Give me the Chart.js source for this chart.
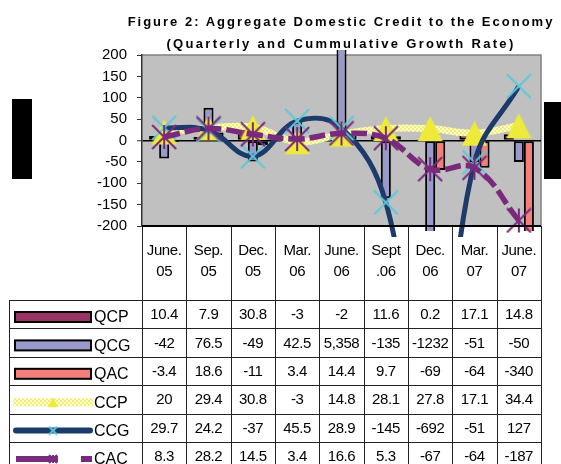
<!DOCTYPE html>
<html>
<head>
<meta charset="utf-8">
<script src="https://cdn.jsdelivr.net/npm/chart.js@4.4.0/dist/chart.umd.min.js"></script>
<style>
  html, body { margin: 0; padding: 0; background: #fff; width: 561px; height: 464px; overflow: hidden; }
  #wrap { position: relative; width: 561px; height: 464px; }
  #chart { position: absolute; left: 0; top: 0; }
  .title { position: absolute; left: 120px; width: 442px; text-align: center; line-height: 16px;
           font: bold 13px "Liberation Sans", Arial, sans-serif; color: #000; white-space: nowrap; }
  .blk { position: absolute; background: #000; }
</style>
</head>
<body>
<div id="wrap">
  <canvas id="chart" width="561" height="464"></canvas>
  <div class="title" style="top:14px; letter-spacing:2px;">Figure 2: Aggregate Domestic Credit to the Economy</div>
  <div class="title" style="top:36px; letter-spacing:2.3px;">(Quarterly and Cummulative Growth Rate)</div>
  <div class="blk" style="left:12px; top:99px; width:20px; height:80px;"></div>
  <div class="blk" style="left:544px; top:102px; width:17px; height:77px;"></div>
</div>
<script>
// categories (two lines each, as in the data table header)
const categories = [
    ["June.", "05"], ["Sep.", "05"], ["Dec.", "05"], ["Mar.", "06"], ["June.", "06"],
    ["Sept", ".06"], ["Dec.", "06"], ["Mar.", "07"], ["June.", "07"]
];

// quarterly growth (bars)
const qcp = [10.4, 7.9, 30.8, -3, -2, 11.6, 0.2, 17.1, 14.8];
const qcg = [-42, 76.5, -49, 42.5, 5358, -135, -1232, -51, -50];
const qac = [-3.4, 18.6, -11, 3.4, 14.4, 9.7, -69, -64, -340];

// cumulative growth (lines)
const ccp = [20, 29.4, 30.8, -3, 14.8, 28.1, 27.8, 17.1, 34.4];
const ccg = [29.7, 24.2, -37, 45.5, 28.9, -145, -692, -51, 127];
const cac = [8.3, 28.2, 14.5, 3.4, 16.6, 5.3, -67, -64, -187];

// y axis
const yMin = -200;
const yMax = 200;
const yStep = 50;

const FONT = '"Liberation Sans", Arial, sans-serif';

function makeMarker(kind, size, color, lw) {
    const c = document.createElement("canvas");
    c.width = size + 2;
    c.height = size + 2;
    const g = c.getContext("2d");
    const m = (size + 2) / 2, r = size / 2;
    g.strokeStyle = color;
    g.fillStyle = color;
    g.lineWidth = lw;
    g.beginPath();
    if (kind === "tri") {
        g.moveTo(m, 1);
        g.lineTo(size + 1, size + 1);
        g.lineTo(1, size + 1);
        g.closePath();
        g.fill();
    } else {
        g.moveTo(m - r, m - r); g.lineTo(m + r, m + r);
        g.moveTo(m + r, m - r); g.lineTo(m - r, m + r);
        if (kind === "star") { g.moveTo(m, m - r); g.lineTo(m, m + r); }
        g.stroke();
    }
    return c;
}

const canvas = document.getElementById("chart");
const ctx = canvas.getContext("2d");

// dotted pale yellow band for CCP
const tile = document.createElement("canvas");
tile.width = 4; tile.height = 4;
const tg = tile.getContext("2d");
tg.fillStyle = "#FFFFC4"; tg.fillRect(0, 0, 4, 4);
tg.fillStyle = "#EFEC84"; tg.fillRect(0, 0, 2, 2); tg.fillRect(2, 2, 2, 2);
const ccpPattern = ctx.createPattern(tile, "repeat");

const YELLOW = "#EDEA3A";
const NAVY = "#1C3A6A";
const CYAN = "#5CC8DA";
const PURPLE = "#7A2A7C";

const lineClip = { left: 0, top: 5, right: 0, bottom: 11 };
const barClip = { left: 0, top: 5, right: 0, bottom: 5 };

const fmt = v => v >= 1000 ? v.toLocaleString("en-US") : String(v);

// grey plot area with the grey frame
const plotFrame = {
    id: "plotFrame",
    beforeDraw(chart) {
        const a = chart.chartArea;
        const c = chart.ctx;
        c.save();
        c.fillStyle = "#C0C0C0";
        c.fillRect(a.left, a.top, a.right - a.left, a.bottom - a.top);
        c.strokeStyle = "#808080";
        c.lineWidth = 1.5;
        c.beginPath();
        c.moveTo(a.left, a.top);
        c.lineTo(a.right, a.top);
        c.lineTo(a.right, a.bottom);
        c.stroke();
        c.restore();
    }
};

// data table below the plot: header, legend keys and values
const dataTable = {
    id: "dataTable",
    afterDraw(chart) {
        const c = chart.ctx;
        const a = chart.chartArea;
        const xs = chart.scales.x;
        const n = categories.length;
        const edges = [];
        for (let i = 0; i <= n; i++) edges.push(Math.round(xs.getPixelForValue(i - 0.5)) + 0.5);
        const rowTop = 300, rowH = 28.4, left = 9.5, bottom = chart.height;
        const sets = chart.data.datasets;

        c.save();
        c.strokeStyle = "#222";
        c.lineWidth = 1;
        c.beginPath();
        edges.forEach(x => { c.moveTo(x, a.bottom); c.lineTo(x, bottom); });
        c.moveTo(left, rowTop); c.lineTo(left, bottom);
        for (let r = 0; r < sets.length; r++) {
            const y = Math.round(rowTop + r * rowH) + 0.5;
            c.moveTo(left, y); c.lineTo(edges[n], y);
        }
        c.stroke();

        c.strokeStyle = "#000";
        c.lineWidth = 2;
        c.beginPath();
        c.moveTo(a.left, a.bottom); c.lineTo(a.right, a.bottom);
        c.stroke();

        c.fillStyle = "#000";
        c.font = "15px " + FONT;
        if ("letterSpacing" in c) c.letterSpacing = "-0.4px";
        c.textAlign = "center";
        c.textBaseline = "middle";
        categories.forEach((lab, i) => {
            const cx = xs.getPixelForValue(i);
            c.fillText(lab[0], cx, 251);
            c.fillText(lab[1], cx, 272);
        });

        sets.forEach((ds, r) => {
            const top = rowTop + r * rowH;
            c.fillStyle = "#000";
            c.textAlign = "center";
            c.font = "15px " + FONT;
            if ("letterSpacing" in c) c.letterSpacing = "-0.4px";
            ds.data.forEach((v, i) => c.fillText(fmt(v), xs.getPixelForValue(i), top + 15));

            const ky = top + 17;
            if (ds.type === "bar") {
                c.fillStyle = ds.backgroundColor;
                c.fillRect(15, ky - 5, 76, 10);
                c.strokeStyle = "#000";
                c.lineWidth = 2;
                c.strokeRect(15, ky - 5, 76, 10);
            } else {
                c.save();
                c.strokeStyle = ds.borderColor;
                c.lineWidth = ds.keyWidth;
                c.lineCap = ds.keyCap;
                c.setLineDash(ds.keyDash);
                c.beginPath();
                c.moveTo(ds.keyFrom, ky); c.lineTo(ds.keyTo, ky);
                c.stroke();
                c.restore();
                const mk = ds.keyMarker;
                c.drawImage(mk, 53 - mk.width / 2, ky - mk.height / 2);
            }
            c.fillStyle = "#000";
            c.textAlign = "left";
            c.font = "16px " + FONT;
            if ("letterSpacing" in c) c.letterSpacing = "0px";
            c.fillText(ds.label, 94, ky + 1);
        });
        c.restore();
    }
};

Chart.defaults.font.family = FONT;
Chart.defaults.color = "#000";

new Chart(canvas, {
    type: "bar",
    data: {
        labels: categories,
        datasets: [
            { type: "bar", label: "QCP", data: qcp, backgroundColor: "#993366", borderColor: "#000",
              borderWidth: 2, borderSkipped: false, order: 10, clip: barClip },
            { type: "bar", label: "QCG", data: qcg, backgroundColor: "#9999CC", borderColor: "#000",
              borderWidth: 2, borderSkipped: false, order: 10, clip: barClip },
            { type: "bar", label: "QAC", data: qac, backgroundColor: "#F47E7A", borderColor: "#000",
              borderWidth: 2, borderSkipped: false, order: 10, clip: barClip },
            { type: "line", label: "CCP", data: ccp, borderColor: ccpPattern, borderWidth: 7,
              tension: 0.4, capBezierPoints: false, order: 3, clip: lineClip,
              pointStyle: makeMarker("tri", 25, YELLOW, 1),
              keyWidth: 8, keyCap: "butt", keyDash: [], keyFrom: 13, keyTo: 93,
              keyMarker: makeMarker("tri", 10, YELLOW, 1) },
            { type: "line", label: "CCG", data: ccg, borderColor: NAVY, borderWidth: 5,
              tension: 0.4, capBezierPoints: false, order: 2, clip: lineClip,
              pointStyle: makeMarker("x", 24, CYAN, 2),
              keyWidth: 6, keyCap: "round", keyDash: [], keyFrom: 16, keyTo: 90,
              keyMarker: makeMarker("x", 8, CYAN, 2) },
            { type: "line", label: "CAC", data: cac, borderColor: PURPLE, borderWidth: 5.5,
              borderDash: [16, 5], tension: 0.4, capBezierPoints: false, order: 1, clip: lineClip,
              pointStyle: makeMarker("star", 24, PURPLE, 2),
              keyWidth: 6, keyCap: "butt", keyDash: [42, 23], keyFrom: 16, keyTo: 92,
              keyMarker: makeMarker("star", 8, PURPLE, 2) }
        ]
    },
    options: {
        responsive: false,
        animation: false,
        layout: { padding: { left: 0, top: 55, right: 20, bottom: 238 } },
        datasets: { bar: { categoryPercentage: 0.68, barPercentage: 1 } },
        plugins: { legend: { display: false }, tooltip: { enabled: false }, title: { display: false } },
        scales: {
            x: { display: false, offset: true },
            y: {
                min: yMin,
                max: yMax,
                afterFit: s => { s.width = 142; },
                border: { display: true, color: "#333", width: 1.5 },
                grid: {
                    drawOnChartArea: true,
                    drawTicks: true,
                    tickLength: 5,
                    tickColor: "#333",
                    tickWidth: 1,
                    color: c => c.tick && c.tick.value === 0 ? "#000" : "rgba(0,0,0,0)",
                    lineWidth: c => c.tick && c.tick.value === 0 ? 1.5 : 1
                },
                ticks: { stepSize: yStep, padding: 10, font: { size: 15 }, color: "#000" }
            }
        }
    },
    plugins: [plotFrame, dataTable]
});
</script>
</body>
</html>
